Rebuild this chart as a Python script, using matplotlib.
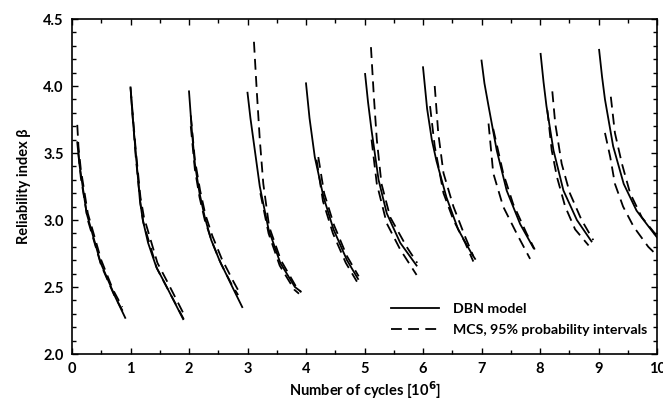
import matplotlib.pyplot as plt
from matplotlib.ticker import MultipleLocator

# DBN model, one curve per inspection interval
dbn_x = [
    [0.09, 0.125, 0.25, 0.49, 0.735, 0.91],
    [1.0, 1.04, 1.09, 1.16, 1.21, 1.30, 1.44, 1.62, 1.90],
    [2.0, 2.05, 2.10, 2.18, 2.27, 2.38, 2.52, 2.73, 2.91],
    [3.0, 3.05, 3.10, 3.21, 3.36, 3.56, 3.81, 3.90],
    [4.0, 4.06, 4.15, 4.30, 4.47, 4.70, 4.89],
    [5.01, 5.06, 5.12, 5.24, 5.38, 5.61, 5.89],
    [6.0, 6.07, 6.15, 6.23, 6.40, 6.60, 6.83, 6.89],
    [7.0, 7.05, 7.12, 7.26, 7.43, 7.66, 7.89],
    [8.01, 8.06, 8.11, 8.23, 8.40, 8.63, 8.88],
    [9.01, 9.06, 9.11, 9.25, 9.43, 9.65, 9.84, 10.0],
]
dbn_beta = [
    [3.58, 3.42, 3.05, 2.68, 2.43, 2.27],
    [3.99, 3.75, 3.50, 3.15, 3.00, 2.83, 2.65, 2.50, 2.26],
    [3.96, 3.66, 3.42, 3.20, 3.02, 2.85, 2.70, 2.51, 2.35],
    [3.95, 3.76, 3.60, 3.25, 2.93, 2.68, 2.50, 2.47],
    [4.02, 3.76, 3.47, 3.17, 2.93, 2.70, 2.56],
    [4.09, 3.88, 3.67, 3.30, 3.05, 2.83, 2.66],
    [4.14, 3.83, 3.60, 3.44, 3.17, 2.93, 2.75, 2.71],
    [4.19, 4.02, 3.85, 3.52, 3.22, 2.97, 2.79],
    [4.24, 4.03, 3.85, 3.52, 3.22, 3.00, 2.84],
    [4.27, 4.07, 3.90, 3.55, 3.27, 3.07, 2.96, 2.87],
]

# MCS upper 95% bound
up_x = [
    [0.09, 0.11, 0.15, 0.27, 0.50, 0.70, 0.86],
    [1.0, 1.09, 1.17, 1.23, 1.46, 1.64, 1.92],
    [2.03, 2.10, 2.19, 2.28, 2.40, 2.56, 2.76, 2.86],
    [3.11, 3.16, 3.21, 3.27, 3.37, 3.57, 3.82, 3.92],
    [4.21, 4.31, 4.48, 4.70, 4.90],
    [5.11, 5.16, 5.21, 5.29, 5.44, 5.72, 5.90],
    [6.2, 6.26, 6.35, 6.52, 6.72, 6.86],
    [7.20, 7.37, 7.54, 7.77, 7.91],
    [8.21, 8.26, 8.37, 8.51, 8.71, 8.91],
    [9.21, 9.28, 9.40, 9.54, 9.74, 10.0],
]
up_beta = [
    [3.71, 3.55, 3.38, 3.05, 2.70, 2.48, 2.35],
    [3.99, 3.52, 3.17, 3.02, 2.68, 2.53, 2.29],
    [3.78, 3.45, 3.22, 3.04, 2.88, 2.71, 2.54, 2.46],
    [4.33, 3.95, 3.60, 3.27, 2.95, 2.70, 2.51, 2.46],
    [3.47, 3.20, 2.96, 2.73, 2.58],
    [4.29, 3.92, 3.60, 3.27, 3.02, 2.80, 2.68],
    [4.0, 3.65, 3.35, 3.10, 2.875, 2.73],
    [3.68, 3.35, 3.12, 2.90, 2.78],
    [3.96, 3.72, 3.42, 3.20, 3.00, 2.85],
    [3.92, 3.65, 3.42, 3.20, 3.02, 2.88],
]

# MCS lower 95% bound
lo_x = [
    [0.11, 0.15, 0.27, 0.50, 0.72, 0.88],
    [1.01, 1.09, 1.17, 1.22, 1.45, 1.63, 1.91],
    [2.03, 2.10, 2.18, 2.27, 2.39, 2.55, 2.74, 2.84],
    [3.22, 3.36, 3.55, 3.80, 3.88],
    [4.18, 4.29, 4.46, 4.68, 4.87],
    [5.12, 5.21, 5.38, 5.61, 5.89],
    [6.12, 6.20, 6.35, 6.52, 6.72, 6.86],
    [7.12, 7.20, 7.37, 7.60, 7.83],
    [8.125, 8.20, 8.29, 8.43, 8.60, 8.83],
    [9.11, 9.20, 9.28, 9.42, 9.60, 9.85, 9.99],
]
lo_beta = [
    [3.50, 3.32, 3.00, 2.66, 2.44, 2.31],
    [3.93, 3.47, 3.12, 2.98, 2.64, 2.49, 2.26],
    [3.70, 3.38, 3.17, 3.00, 2.84, 2.67, 2.51, 2.44],
    [3.20, 2.90, 2.66, 2.48, 2.45],
    [3.45, 3.14, 2.90, 2.68, 2.54],
    [3.60, 3.27, 2.975, 2.78, 2.59],
    [3.85, 3.55, 3.20, 3.00, 2.83, 2.69],
    [3.72, 3.35, 3.10, 2.90, 2.71],
    [3.82, 3.52, 3.32, 3.10, 2.93, 2.81],
    [3.65, 3.47, 3.27, 3.10, 2.95, 2.80, 2.74],
]

plt.rcParams['font.family'] = ['Lato', 'DejaVu Sans']
plt.rcParams['font.weight'] = 'bold'
plt.rcParams['axes.labelweight'] = 'bold'

fig = plt.figure(figsize=(6.63, 4.01), dpi=100)
ax = fig.add_axes([0.1086, 0.1172, 0.8824, 0.8354])

dash = (6, 3.5)
for i in range(len(dbn_x)):
    ax.plot(dbn_x[i], dbn_beta[i], color='black', lw=1.3,
            label='DBN model' if i == 0 else None)
    ax.plot(up_x[i], up_beta[i], color='black', lw=1.3, dashes=dash,
            label='MCS, 95% probability intervals' if i == 0 else None)
    ax.plot(lo_x[i], lo_beta[i], color='black', lw=1.3, dashes=dash)

ax.set_xlim(0, 10)
ax.set_ylim(2.0, 4.5)
ax.xaxis.set_major_locator(MultipleLocator(1))
ax.xaxis.set_minor_locator(MultipleLocator(0.5))
ax.yaxis.set_major_locator(MultipleLocator(0.5))
ax.yaxis.set_minor_locator(MultipleLocator(0.1))
ax.set_xticklabels([str(int(v)) for v in ax.get_xticks()])
ax.tick_params(which='both', direction='in', top=True, right=True,
               labelsize=10.5, width=1, pad=6)
ax.tick_params(which='major', length=4)
ax.tick_params(which='minor', length=3)
for s in ax.spines.values():
    s.set_linewidth(1.2)

ax.set_xlabel('Number of cycles [10$^\\mathbf{6}$]', fontsize=10.5, labelpad=2)
ax.set_ylabel('Reliability index β', fontsize=10.5, labelpad=9)

ax.legend(loc='lower right', frameon=False, fontsize=10.2, handlelength=3.4,
          handletextpad=1.0, borderaxespad=0.3, labelspacing=0.6,
          bbox_to_anchor=(1.0, 0.025))

fig.savefig('out.png', dpi=100)
